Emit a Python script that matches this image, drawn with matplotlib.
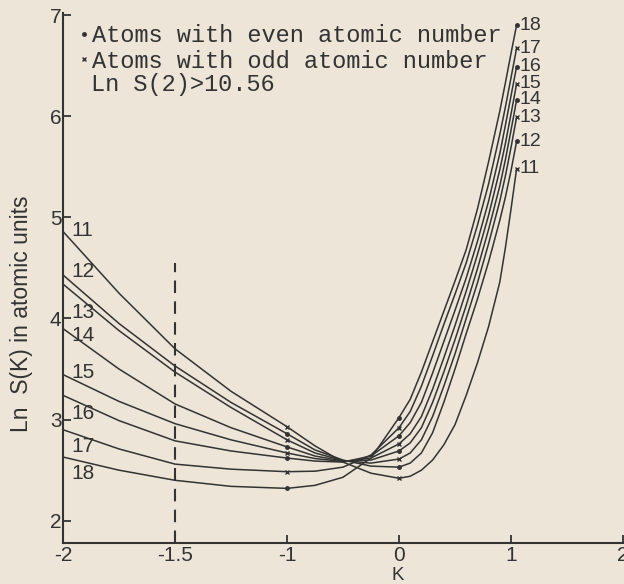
import numpy as np
import matplotlib.pyplot as plt
from matplotlib.lines import Line2D

K = [-2, -1.75, -1.5, -1.25, -1, -0.75, -0.5, -0.25, 0,
     0.1, 0.2, 0.3, 0.4, 0.5, 0.6, 0.7, 0.8, 0.9, 0.95, 1.0, 1.05]

# Ln S(K) for Z = 11 ... 18
s11 = [4.86, 4.25, 3.70, 3.28, 2.93, 2.74, 2.58, 2.47, 2.42,
       2.44, 2.50, 2.60, 2.75, 2.95, 3.24, 3.56, 3.92, 4.36, 4.70, 5.08, 5.48]
s12 = [4.43, 3.95, 3.53, 3.17, 2.86, 2.70, 2.60, 2.54, 2.53,
       2.57, 2.67, 2.87, 3.17, 3.50, 3.85, 4.19, 4.56, 4.97, 5.20, 5.46, 5.75]
s13 = [4.34, 3.88, 3.47, 3.12, 2.80, 2.67, 2.595, 2.57, 2.61,
       2.67, 2.80, 3.03, 3.33, 3.65, 4.00, 4.35, 4.74, 5.16, 5.41, 5.69, 5.99]
s14 = [3.90, 3.50, 3.155, 2.92, 2.73, 2.64, 2.59, 2.60, 2.69,
       2.77, 2.92, 3.17, 3.47, 3.79, 4.13, 4.49, 4.88, 5.31, 5.57, 5.86, 6.16]
s15 = [3.445, 3.18, 2.96, 2.80, 2.67, 2.615, 2.585, 2.62, 2.76,
       2.86, 3.03, 3.30, 3.61, 3.93, 4.27, 4.63, 5.02, 5.47, 5.73, 6.02, 6.32]
s16 = [3.24, 2.99, 2.79, 2.69, 2.62, 2.59, 2.58, 2.64, 2.84,
       2.97, 3.17, 3.46, 3.77, 4.08, 4.40, 4.76, 5.16, 5.63, 5.91, 6.20, 6.49]
s17 = [2.90, 2.71, 2.56, 2.51, 2.485, 2.49, 2.53, 2.65, 2.92,
       3.08, 3.33, 3.63, 3.94, 4.24, 4.55, 4.92, 5.33, 5.82, 6.09, 6.38, 6.67]
s18 = [2.63, 2.50, 2.40, 2.34, 2.32, 2.35, 2.43, 2.62, 3.02,
       3.20, 3.47, 3.77, 4.07, 4.37, 4.68, 5.08, 5.55, 6.05, 6.33, 6.62, 6.90]

Z = [11, 12, 13, 14, 15, 16, 17, 18]
series = [s11, s12, s13, s14, s15, s16, s17, s18]
left_label_y = [4.87, 4.46, 4.06, 3.83, 3.47, 3.06, 2.73, 2.47]

xtick_vals = [-2, -1.5, -1, 0, 1, 2]
xtick_text = ['-2', '-1.5', '-1', '0', '1', '2']
ytick_vals = [2, 3, 4, 5, 6, 7]

bg = '#ece5d8'
ink = '#333333'
sans = ['Liberation Sans Narrow', 'Liberation Sans', 'DejaVu Sans']
mono = ['Liberation Mono', 'DejaVu Sans Mono']


# the axis between -2 and -1 is drawn twice as wide as the rest
def fwd(x):
    x = np.asarray(x, dtype=float)
    return np.where(x < -1, 2 * x + 1, x)


def inv(u):
    u = np.asarray(u, dtype=float)
    return np.where(u < -1, (u - 1) / 2, u)


fig = plt.figure(figsize=(6.24, 5.84), dpi=100, facecolor=bg)
ax = fig.add_axes([63 / 624, 41 / 584, 560 / 624, 530 / 584])
ax.set_facecolor(bg)
ax.set_xscale('function', functions=(fwd, inv))
ax.set_xlim(-2, 2)
ax.set_ylim(1.78, 7.02)

marks = [K.index(-1), K.index(0), len(K) - 1]
for z, s, ly in zip(Z, series, left_label_y):
    m = 'x' if z % 2 else 'o'
    ax.plot(K, s, color=ink, lw=1.1, marker=m, markevery=marks,
            ms=3.5 if z % 2 else 2.5, mew=1.0)
    ax.text(-1.962, ly, str(z), ha='left', va='center', fontsize=15,
            color=ink, family=sans)
    ax.text(1.075, s[-1], str(z), ha='left', va='center', fontsize=14,
            color=ink, family=sans, clip_on=False)

# dashed marker line at K = -1.5
ax.plot([-1.5, -1.5], [1.78, 4.55], color=ink, lw=1.5, ls=(0, (6, 4)))

for side in ['top', 'right']:
    ax.spines[side].set_visible(False)
for side in ['left', 'bottom']:
    ax.spines[side].set_linewidth(1.5)
    ax.spines[side].set_color(ink)

ax.set_xticks(xtick_vals)
ax.set_xticklabels(xtick_text)
ax.set_yticks(ytick_vals)
ax.minorticks_off()
ax.tick_params(axis='both', direction='in', length=6, width=1.3, color=ink,
               labelcolor=ink, labelsize=15)
ax.tick_params(axis='y', pad=1)
ax.tick_params(axis='x', pad=2)
for t in ax.get_xticklabels() + ax.get_yticklabels():
    t.set_family(sans)

fig.text(398 / 624, 1 - 575 / 584, 'K', ha='center', va='center',
         fontsize=13.5, color=ink, family=sans)
fig.text(22 / 624, 1 - 314 / 584, 'Ln  S(K) in atomic units', rotation=90,
         ha='center', va='center', fontsize=16.5, color=ink, family=sans)

handles = [Line2D([], [], ls='none', marker='o', ms=2.5, color=ink),
           Line2D([], [], ls='none', marker='x', ms=3.5, mew=1.0, color=ink)]
leg = fig.legend(handles, ['Atoms with even atomic number',
                           'Atoms with odd atomic number'],
                 loc='upper left', bbox_to_anchor=(67 / 624, 1 - 12 / 584),
                 frameon=False, borderpad=0, handlelength=0.4,
                 handletextpad=0.15, labelspacing=0.12,
                 prop={'family': mono, 'size': 17})
for t in leg.get_texts():
    t.set_color(ink)
fig.text(91 / 624, 1 - 84 / 584, 'Ln S(2)>10.56', ha='left', va='center',
         fontsize=17, color=ink, family=mono)

fig.savefig('out.png', dpi=100, facecolor=bg)
